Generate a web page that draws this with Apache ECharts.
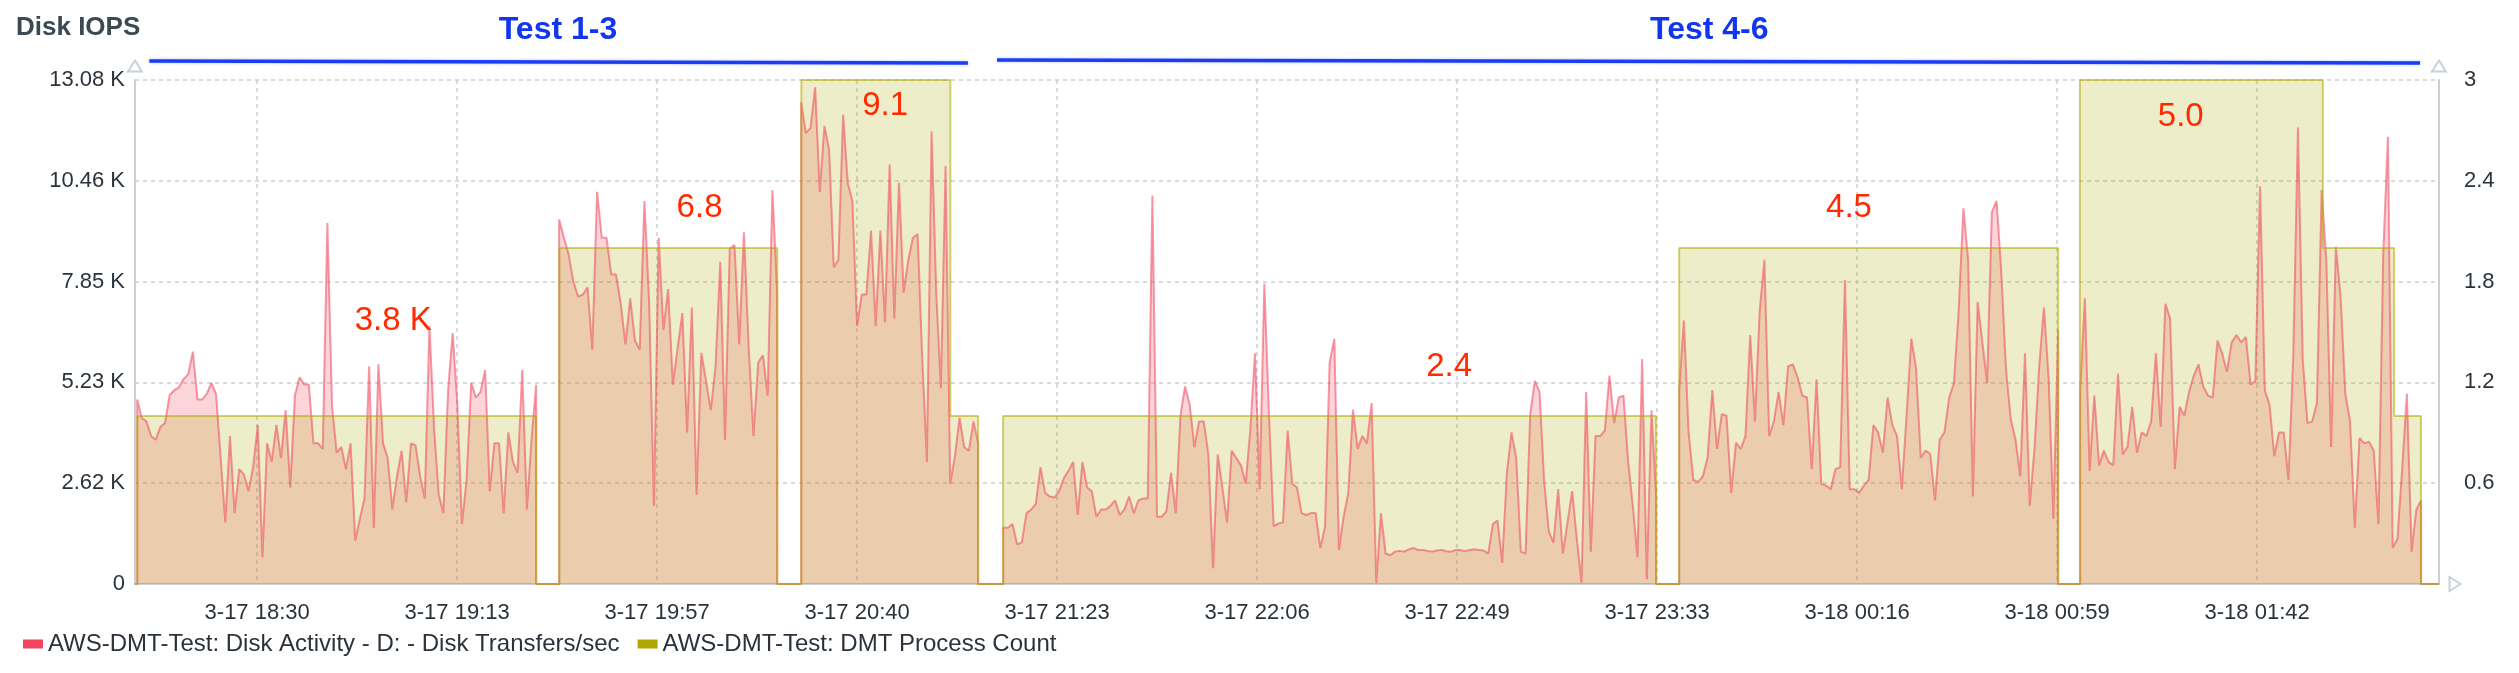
<!DOCTYPE html>
<html><head><meta charset="utf-8">
<script src="https://cdn.jsdelivr.net/npm/echarts@6/dist/echarts.min.js"></script>
<style>html,body{margin:0;padding:0;background:#fff}#c{width:2519px;height:673px}</style>
</head><body><div id="c"></div>
<script>
const FONT = '"Liberation Sans", Arial, sans-serif';

// ---- tick labels ----
const timeTickLabels = ['3-17 18:30','3-17 19:13','3-17 19:57','3-17 20:40','3-17 21:23','3-17 22:06','3-17 22:49','3-17 23:33','3-18 00:16','3-18 00:59','3-18 01:42'];
// minutes since 3-17 00:00
const timeTickMinutes = [1110.6,1153.82,1197.04,1240.26,1283.48,1326.7,1369.92,1413.14,1456.36,1499.58,1542.8];
const iopsTickLabels = ['0','2.62 K','5.23 K','7.85 K','10.46 K','13.08 K'];
const countTickLabels = ['','0.6','1.2','1.8','2.4','3'];
const timeMin = 1084.2, timeMax = 1582.1;

// ---- Disk transfers/sec, one array per test run (evenly sampled between start and end) ----
const runStart = [1084.67, 1175.86, 1228.16, 1271.81, 1417.89, 1504.55];
const runEnd   = [1170.89, 1222.97, 1266.41, 1412.92, 1499.8, 1578.23];
const run1 = [4790,4310,4220,3840,3745,4080,4175,4905,5030,5105,
  5320,5440,6030,4790,4790,4935,5220,4935,3265,1600,
  3840,1840,2980,2840,2410,3035,4130,695,3650,3170,
  4130,3270,4510,2500,4890,5365,5175,5175,3650,3650,
  3505,9370,4620,3410,3555,2980,3650,1125,1695,2220,
  5650,1460,5700,3650,3270,1935,2790,3460,2125,3650,
  3600,2790,2220,6700,4030,2315,1840,4985,6510,4695,
  1550,2695,5220,4840,4980,5550,2410,3650,3650,1840,
  3935,3170,2890,5550,1935,3745,5170];
const run2 = [9460,8985,8555,7840,7460,7510,7700,6080,10180,8985,
  8985,8030,8030,7270,6220,7410,6320,6080,9940,7270,
  2030,8985,6600,7650,5175,6125,7030,3935,7175,2315,
  6000,5270,4510,5650,8365,3745,8700,8795,6220,9130,
  6130,3840,5745,5935,4890,10225,7560];
const run3 = [12510,11700,11840,12890,10175,11890,11270,8220,8415,12175,
  10415,9935,6700,7510,7510,9175,6700,9175,6795,10890,
  6890,10415,7560,8410,8985,9080,5840,3170,11750,7555,
  5080,10850,2600,3315,4315,3555,3460,4220,3650];
const run4 = [1460,1460,1555,1030,1080,1840,1935,2075,3030,2365,
  2270,2245,2410,2745,2935,3170,1790,3170,2505,2410,
  1745,1935,1935,2030,2170,1790,1935,2270,1840,2170,
  2220,2220,10080,1745,1745,1885,2890,1840,4365,5125,
  4650,3555,4220,4220,3365,410,3365,2505,1600,3460,
  3270,3075,2600,4030,5985,2460,7795,4365,1505,1570,
  1600,3980,2600,2505,1840,1790,1840,1840,935,1485,
  5745,6365,885,1745,2365,4525,3505,3840,3650,4695,
  30,1840,790,745,840,860,840,900,935,880,
  885,860,840,870,885,850,840,880,885,850,
  885,900,885,870,790,1555,1650,550,2890,3935,
  3270,840,790,4410,5270,4985,2650,1360,1075,2460,
  790,1600,2410,1170,30,4985,840,3840,3840,3980,
  5410,4175,4840,4890,3175,2030,695,5840,125,4510,
  2300];
const run5 = [5000,6840,3935,2700,2650,2790,3270,5030,3505,4410,
  4365,2365,3670,3505,3840,6460,4220,7080,8415,3840,
  4220,4985,4125,5650,5700,5365,4890,4840,2980,5315,
  2600,2555,2460,2980,3030,7890,2460,2460,2365,2555,
  2700,4125,3935,3410,4840,4125,3840,2460,4365,6365,
  5600,3270,3460,3380,2170,3745,3935,4840,5220,7080,
  9750,8410,2270,7315,6270,5220,9650,9940,8080,5555,
  4270,3745,2790,5985,2030,3505,5650,7175,5315,1695,
  6600];
const run6 = [5000,7415,2935,4890,3080,3460,3170,3080,5460,3365,
  3555,4600,3410,3935,3840,4220,5985,4080,7270,6890,
  2980,4600,4365,4985,5410,5700,5125,4890,4840,6315,
  5985,5505,6270,6460,6270,6410,5175,5270,10320,5030,
  4650,3315,3935,3935,2700,5890,11845,5840,4175,4220,
  4700,10225,8370,3555,8750,7460,4935,4220,1460,3790,
  3650,3695,3460,1555,8555,11605,935,1170,2980,4935,
  840,1935,2170];
const runs = [run1, run2, run3, run4, run5, run6];

// ---- DMT process count (value holds from each time to the next) ----
const procTimes  = [1084.2,1084.7,1170.9,1175.9,1223.0,1228.2,1260.4,1266.4,1271.8,1412.9,1417.9,1499.8,1504.5,1557.0,1572.4,1578.2,1582.1];
const procCounts = [0,1,0,2,0,3,1,0,1,0,2,0,3,2,1,0,0];

// ---- annotations ----
const annotTexts = ['3.8 K','6.8','9.1','2.4','4.5','5.0'];
const annotTimes = [1140.0,1206.2,1246.3,1368.2,1454.6,1526.3];
const annotValues = [6825,9758,12415,5645,9758,12130];
const testNames = ['Test 1-3','Test 4-6'];
const testNameTimes = [1175.6,1424.4];
const testNameValue = 14378;
const bracketT1 = [1087.3,1270.5], bracketT2 = [1264.2,1578.0];
const bracketV1 = [13573,13599], bracketV2 = [13522,13522];

const seriesNames = ['AWS-DMT-Test: Disk Activity - D: - Disk Transfers/sec','AWS-DMT-Test: DMT Process Count'];

// build data
const diskData = [[timeMin, 0]];
runs.forEach((vals, s) => {
  const n = vals.length, a = runStart[s], b = runEnd[s];
  diskData.push([a, 0]);
  vals.forEach((v, i) => diskData.push([a + (b - a) * i / (n - 1), v]));
  diskData.push([b, 0]);
});
diskData.push([timeMax, 0]);
const procData = procTimes.map((t, i) => [t, procCounts[i]]);

const axisGray = '#c9d0d6';
const labelColor = '#2a333b';

const chart = echarts.init(document.getElementById('c'), null, {renderer: 'canvas'});
const option = {
  animation: false,
  backgroundColor: '#ffffff',
  textStyle: {fontFamily: FONT},
  title: {text: 'Disk IOPS', left: 16, top: 15, padding: 0,
    textStyle: {fontSize: 26, fontWeight: 'bold', color: '#3b4953', fontFamily: FONT}},
  legend: {
    data: seriesNames, left: 23, top: 632, padding: 0, icon: 'rect',
    itemWidth: 20, itemHeight: 9, itemGap: 18,
    textStyle: {fontSize: 24, color: labelColor, fontFamily: FONT}
  },
  grid: {left: 135, right: 80, top: 80, bottom: 89, containLabel: false},
  xAxis: {
    type: 'value', min: timeMin, max: timeMax,
    axisLine: {show: true, onZero: false, lineStyle: {color: axisGray, width: 2},
      symbol: ['none', 'emptyTriangle'], symbolSize: [14, 11], symbolOffset: [0, 16]},
    axisTick: {show: false, customValues: timeTickMinutes},
    axisLabel: {customValues: timeTickMinutes, fontSize: 22, color: labelColor, margin: 18, fontFamily: FONT,
      formatter: v => { const i = timeTickMinutes.findIndex(m => Math.abs(m - v) < 0.01); return i >= 0 ? timeTickLabels[i] : ''; }},
    splitLine: {show: true, lineStyle: {color: axisGray, type: [4, 4], width: 1.5}}
  },
  yAxis: [{
    type: 'value', min: 0, max: 13080, interval: 2616,
    axisLine: {show: true, lineStyle: {color: axisGray, width: 2},
      symbol: ['none', 'emptyTriangle'], symbolSize: [14, 11], symbolOffset: [0, 14]},
    axisTick: {show: false},
    axisLabel: {fontSize: 22, color: labelColor, margin: 10, fontFamily: FONT,
      formatter: v => iopsTickLabels[Math.round(v / 2616)]},
    splitLine: {show: true, lineStyle: {color: axisGray, type: [4, 4], width: 1.5}}
  }, {
    type: 'value', min: 0, max: 3, interval: 0.6, position: 'right',
    axisLine: {show: true, lineStyle: {color: axisGray, width: 2},
      symbol: ['none', 'emptyTriangle'], symbolSize: [14, 11], symbolOffset: [0, 14]},
    axisTick: {show: false},
    axisLabel: {fontSize: 22, color: labelColor, margin: 25, fontFamily: FONT,
      formatter: v => countTickLabels[Math.round(v / 0.6)]},
    splitLine: {show: false}
  }],
  series: [{
    name: seriesNames[0], type: 'line', yAxisIndex: 0, data: diskData,
    showSymbol: false, symbol: 'none',
    itemStyle: {color: '#f0455c'},
    lineStyle: {color: 'rgba(240,69,92,0.55)', width: 2},
    areaStyle: {color: 'rgba(240,69,92,0.32)'}
  }, {
    name: seriesNames[1], type: 'line', yAxisIndex: 1, data: procData, step: 'end',
    showSymbol: false, symbol: 'none',
    itemStyle: {color: '#b0a800'},
    lineStyle: {color: 'rgba(176,168,0,0.55)', width: 2},
    areaStyle: {color: 'rgba(176,168,0,0.3)'},
    markPoint: {
      symbol: 'circle', symbolSize: 0, silent: true,
      label: {show: true, position: 'inside', formatter: '{b}', fontSize: 33, color: '#ff2a00', fontFamily: FONT},
      data: annotTexts.map((t, i) => ({name: t, coord: [annotTimes[i], annotValues[i] / 13080 * 3]}))
    }
  }]
};
chart.setOption(option);

const px = (t, v) => chart.convertToPixel({xAxisIndex: 0, yAxisIndex: 0}, [t, v]);
const g = [];
bracketT1.forEach((t1, i) => {
  const p1 = px(t1, bracketV1[i]), p2 = px(bracketT2[i], bracketV2[i]);
  g.push({type: 'line', silent: true, shape: {x1: p1[0], y1: p1[1], x2: p2[0], y2: p2[1]},
    style: {stroke: '#1a3cf2', lineWidth: 3.5, shadowBlur: 3, shadowColor: 'rgba(26,60,242,0.35)'}});
});
testNames.forEach((name, i) => {
  const p = px(testNameTimes[i], testNameValue);
  g.push({type: 'text', silent: true, x: p[0], y: p[1],
    style: {text: name, font: 'bold 32px ' + FONT, fill: '#1236f0', align: 'center', verticalAlign: 'middle',
      textAlign: 'center', textVerticalAlign: 'middle'}});
});
chart.setOption({graphic: g});
</script></body></html>
